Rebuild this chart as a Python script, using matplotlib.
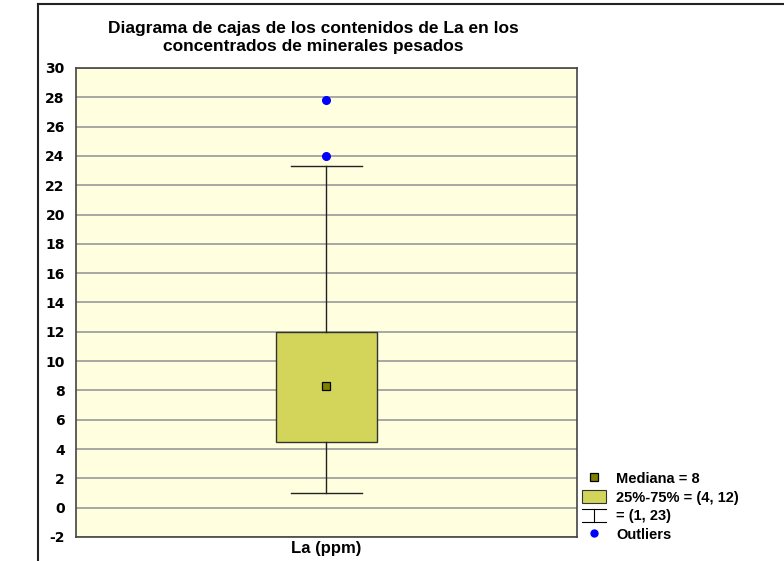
import numpy as np
import matplotlib.pyplot as plt
from matplotlib.lines import Line2D
from matplotlib.patches import Patch
from matplotlib.legend_handler import HandlerBase

plt.rcParams['font.family'] = ['Liberation Sans', 'DejaVu Sans']
plt.rcParams['font.weight'] = 'bold'
plt.rcParams['axes.unicode_minus'] = False

# valores (La, ppm)
etiqueta = "La (ppm)"
mediana = 8.3
q1, q3 = 4.5, 12.0
bigote_bajo, bigote_alto = 1.0, 23.3
outliers = [24.0, 27.8]
yticks = list(range(-2, 31, 2))
leyenda_textos = ["Mediana = 8", "25%-75% = (4, 12)", "= (1, 23)", "Outliers"]

color_caja = '#d2d55a'
color_mediana = '#808000'
color_fondo = '#ffffe0'


class HandlerBigote(HandlerBase):
    def create_artists(self, legend, orig_handle, xdescent, ydescent,
                       width, height, fontsize, trans):
        x0, x1 = -xdescent, -xdescent + width
        xm = (x0 + x1) / 2
        y0, y1 = -ydescent - 0.05 * height, -ydescent + 1.05 * height
        arts = [Line2D([x0, x1], [y1, y1], color='black', lw=0.8),
                Line2D([x0, x1], [y0, y0], color='black', lw=0.8),
                Line2D([xm, xm], [y0, y1], color='black', lw=0.8)]
        for a in arts:
            a.set_transform(trans)
        return arts


fig = plt.figure(figsize=(7.84, 5.61), dpi=100)
ax = fig.add_axes([0.0969, 0.0428, 0.639, 0.836])
ax.set_facecolor(color_fondo)

stats = [dict(med=mediana, q1=q1, q3=q3, whislo=bigote_bajo,
              whishi=bigote_alto, fliers=outliers, label=etiqueta)]
ax.bxp(stats, positions=[0.5], widths=0.2, capwidths=0.14, patch_artist=True,
       boxprops=dict(facecolor=color_caja, edgecolor='#333333', lw=1),
       whiskerprops=dict(color='#222222', lw=1),
       capprops=dict(color='#222222', lw=1),
       medianprops=dict(linestyle='none'),
       flierprops=dict(marker='o', markerfacecolor='#0000ff',
                       markeredgecolor='#0000ff', markersize=5.5))
ax.plot([0.5], [mediana], marker='s', color=color_mediana,
        markeredgecolor='black', markeredgewidth=0.9, markersize=5.5,
        linestyle='none', zorder=5)

ax.set_xlim(0, 1)
ax.set_ylim(-2, 30)
ax.set_yticks(yticks)
ax.set_xticks([0.5])
ax.set_xticklabels([etiqueta])
ax.tick_params(axis='y', length=0, pad=8)
ax.tick_params(axis='x', length=0, pad=3)
for lab in ax.get_yticklabels():
    lab.set_fontweight('bold')
    lab.set_family('DejaVu Sans')
    lab.set_fontsize(10)
for lab in ax.get_xticklabels():
    lab.set_fontweight('bold')
    lab.set_fontsize(12)
ax.yaxis.grid(True, color='#9a9a9a', lw=1.2)
ax.set_axisbelow(True)
for s in ax.spines.values():
    s.set_color('#444444')
    s.set_linewidth(1.2)

fig.text(313 / 784, 1 - 21 / 561,
         "Diagrama de cajas de los contenidos de La en los\n"
         "concentrados de minerales pesados",
         ha='center', va='top', fontsize=12.5, fontweight='bold',
         linespacing=1.25)

handles = [Line2D([], [], marker='s', color=color_mediana, markeredgecolor='black',
                  markeredgewidth=0.9, markersize=5.5, linestyle='none'),
           Patch(facecolor=color_caja, edgecolor='#333333', lw=0.8),
           object(),
           Line2D([], [], marker='o', color='#0000ff', markersize=5, linestyle='none')]
leg = fig.legend(handles, leyenda_textos, loc='upper left',
                 bbox_to_anchor=(0.742, 0.159), frameon=False,
                 prop=dict(size=10.5, weight='bold'), handlelength=1.65,
                 handleheight=0.95, handletextpad=0.7, labelspacing=0.3,
                 borderaxespad=0, borderpad=0,
                 handler_map={object: HandlerBigote()})

# marco exterior recortado
fig.add_artist(Line2D([0.0485, 0.0485], [0.0, 0.993], color='#222222', lw=1.5))
fig.add_artist(Line2D([0.0485, 1.0], [0.993, 0.993], color='#222222', lw=1.5))

plt.savefig("out.png", dpi=100)
plt.close()
